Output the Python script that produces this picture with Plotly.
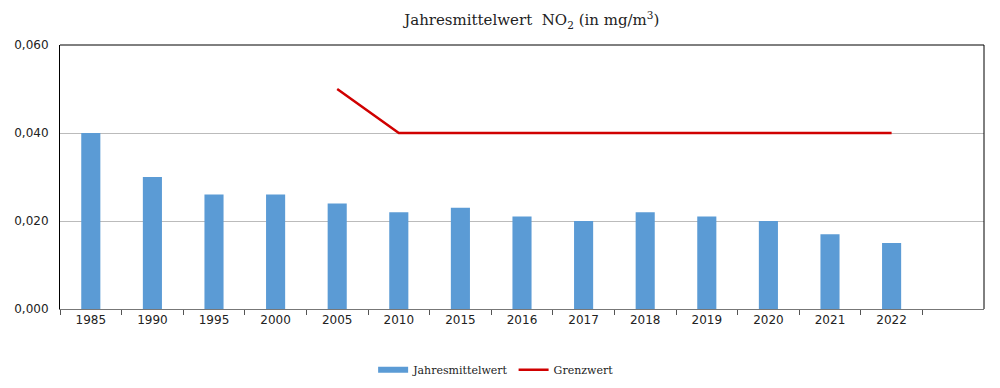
import plotly.graph_objects as go

years = ["1985", "1990", "1995", "2000", "2005", "2010", "2015", "2016",
         "2017", "2018", "2019", "2020", "2021", "2022"]
mean_values = [0.040, 0.030, 0.026, 0.026, 0.024, 0.022, 0.023, 0.021,
               0.020, 0.022, 0.021, 0.020, 0.017, 0.015]
limit_years = ["2005", "2010", "2015", "2016", "2017", "2018", "2019",
               "2020", "2021", "2022"]
limit_values = [0.050, 0.040, 0.040, 0.040, 0.040, 0.040, 0.040,
                0.040, 0.040, 0.040]

serif = "Roboto Slab, DejaVu Serif, serif"
sans = "DejaVu Sans, Verdana, sans-serif"

fig = go.Figure()
fig.add_trace(go.Bar(x=years, y=mean_values, name="Jahresmittelwert",
                     marker=dict(color="#5B9BD5", line=dict(width=0)),
                     width=0.31, showlegend=False))
# legend proxy with wide rectangular swatch
fig.add_trace(go.Scatter(x=[None], y=[None], name="Jahresmittelwert",
                         mode="lines", line=dict(color="#5B9BD5", width=6)))
fig.add_trace(go.Scatter(x=limit_years, y=limit_values, name="Grenzwert",
                         mode="lines", line=dict(color="#D00000", width=2.5)))

# page body has an 8px margin, so the figure is sized 992x380
fig.update_layout(
    width=992, height=380,
    margin=dict(l=52, r=16, t=37, b=79, autoexpand=False),
    paper_bgcolor="white", plot_bgcolor="white",
    separators=",.",
    title=dict(text="Jahresmittelwert  NO<sub>2</sub> (in mg/m<sup>3</sup>)",
               x=0.528, xanchor="center", y=0.968, yanchor="middle",
               font=dict(family=serif, size=15, color="#222")),
    showlegend=True,
    legend=dict(orientation="h", x=0.472, xanchor="center", y=-0.23,
                yanchor="middle", font=dict(family=serif, size=11, color="#222"),
                itemwidth=30, tracegroupgap=0),
    bargap=0.69,
)
fig.update_xaxes(type="category", categoryorder="array", categoryarray=years,
                 range=[-0.5, 14.5], tickson="boundaries", ticks="outside",
                 ticklen=5, tickcolor="#555", showline=True, linecolor="#777",
                 linewidth=1, mirror=False, showgrid=False, automargin=False,
                 tickfont=dict(family=sans, size=12, color="#222"))
fig.update_yaxes(range=[0, 0.06], tickvals=[0, 0.02, 0.04, 0.06],
                 tickformat=".3f", showgrid=True, gridcolor="#BBBBBB",
                 gridwidth=1, showline=True, linecolor="#000", linewidth=1,
                 mirror=False, ticks="", zeroline=False, automargin=False,
                 ticklabelstandoff=8,
                 tickfont=dict(family=sans, size=12, color="#222"))
# frame top and right
fig.add_shape(type="line", xref="paper", yref="paper", x0=0, x1=1, y0=1, y1=1,
              line=dict(color="#000", width=1))
fig.add_shape(type="line", xref="paper", yref="paper", x0=1, x1=1, y0=0, y1=1,
              line=dict(color="#000", width=1))

fig.write_html("out.html")
